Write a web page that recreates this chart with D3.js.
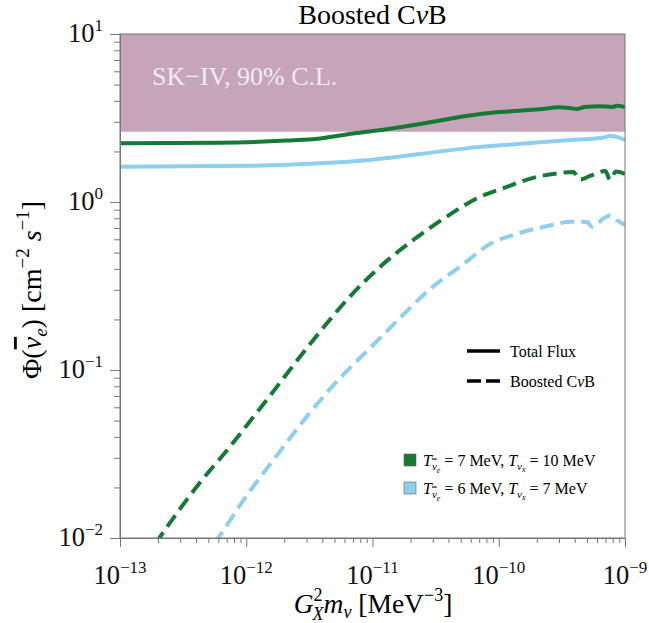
<!DOCTYPE html>
<html>
<head>
<meta charset="utf-8">
<script src="https://cdn.jsdelivr.net/npm/d3@7"></script>
<style>
body { margin: 0; background: #fff; }
text { font-family: "Liberation Serif", "DejaVu Serif", serif; }
</style>
</head>
<body>
<script>
// total flux, T_nuebar = 7 MeV, T_nux = 10 MeV
const totalGreen = [
    {x: 1e-13, y: 2.24}, {x: 6.2e-13, y: 2.25}, {x: 2.09e-12, y: 2.32}, {x: 3.84e-12, y: 2.39},
    {x: 7.05e-12, y: 2.56}, {x: 1.29e-11, y: 2.71}, {x: 2.38e-11, y: 2.91}, {x: 4e-11, y: 3.12},
    {x: 7.1e-11, y: 3.34}, {x: 1.2e-10, y: 3.46}, {x: 2.1e-10, y: 3.56}, {x: 3e-10, y: 3.66},
    {x: 3.6e-10, y: 3.63}, {x: 4.2e-10, y: 3.58}, {x: 4.8e-10, y: 3.68}, {x: 6.3e-10, y: 3.72},
    {x: 8e-10, y: 3.68}, {x: 8.6e-10, y: 3.74}, {x: 1e-9, y: 3.68}
];
// total flux, T_nuebar = 6 MeV, T_nux = 7 MeV
const totalBlue = [
    {x: 1e-13, y: 1.62}, {x: 1.1e-12, y: 1.645}, {x: 3.84e-12, y: 1.70}, {x: 9.5e-12, y: 1.78},
    {x: 2.38e-11, y: 1.93}, {x: 5.9e-11, y: 2.10}, {x: 1.5e-10, y: 2.22}, {x: 3.7e-10, y: 2.34},
    {x: 5.5e-10, y: 2.38}, {x: 6.8e-10, y: 2.42}, {x: 7.6e-10, y: 2.47}, {x: 8.6e-10, y: 2.44},
    {x: 1e-9, y: 2.34}
];
// boosted CvB only
const boostedGreen = [
    {x: 1.9e-13, y: 0.0092}, {x: 2.05e-13, y: 0.01}, {x: 4.05e-13, y: 0.0202}, {x: 7.43e-13, y: 0.035},
    {x: 1.45e-12, y: 0.0663}, {x: 3.4e-12, y: 0.151}, {x: 6.25e-12, y: 0.261}, {x: 1.15e-11, y: 0.412},
    {x: 2.1e-11, y: 0.594}, {x: 3.87e-11, y: 0.818}, {x: 6.68e-11, y: 1.05}, {x: 1.09e-10, y: 1.21},
    {x: 2.0e-10, y: 1.41}, {x: 2.88e-10, y: 1.48}, {x: 3.89e-10, y: 1.51}, {x: 4.4e-10, y: 1.36},
    {x: 5.28e-10, y: 1.43}, {x: 7e-10, y: 1.53}, {x: 7.6e-10, y: 1.36}, {x: 8.5e-10, y: 1.52},
    {x: 1e-9, y: 1.47}
];
const boostedBlue = [
    {x: 5.6e-13, y: 0.0093}, {x: 6.0e-13, y: 0.01}, {x: 9.5e-13, y: 0.0168}, {x: 1.64e-12, y: 0.0291},
    {x: 3.01e-12, y: 0.0527}, {x: 5.53e-12, y: 0.0896}, {x: 9.55e-12, y: 0.135}, {x: 1.65e-11, y: 0.204},
    {x: 2.85e-11, y: 0.303}, {x: 4.93e-11, y: 0.412}, {x: 8.53e-11, y: 0.562}, {x: 1.47e-10, y: 0.654},
    {x: 2.79e-10, y: 0.735}, {x: 3.66e-10, y: 0.764}, {x: 5.0e-10, y: 0.76}, {x: 5.5e-10, y: 0.71},
    {x: 6.8e-10, y: 0.80}, {x: 7.6e-10, y: 0.83}, {x: 8.6e-10, y: 0.78}, {x: 1e-9, y: 0.73}
];
const skLimit = 2.62;
const xTickExp = [-13, -12, -11, -10, -9];
const yTickExp = [-2, -1, 0, 1];

const W = 649, H = 623;
const pLeft = 120, pRight = 625, pTop = 34, pBottom = 538;

const x = d3.scaleLog().domain([1e-13, 1e-9]).range([pLeft, pRight]);
const y = d3.scaleLog().domain([1e-2, 10]).range([pBottom, pTop]);

const green = "#157a35";
const blue = "#8ccfee";

const svg = d3.select("body").append("svg")
.attr("width", W)
.attr("height", H);

svg.append("defs").append("clipPath").attr("id", "clip")
.append("rect")
.attr("x", pLeft).attr("y", pTop)
.attr("width", pRight - pLeft).attr("height", pBottom - pTop);

// SK-IV excluded band
svg.append("rect")
.attr("x", x(1e-13))
.attr("y", y(10))
.attr("width", x(1e-9) - x(1e-13))
.attr("height", y(skLimit) - y(10))
.attr("fill", "#c6a4b9");

svg.append("text")
.attr("x", 152)
.attr("y", 85)
.text("SK\u2212IV, 90% C.L.")
.style("fill", "#f4ecf1")
.style("font-size", "26px");

const line = d3.line()
.x(d => x(d.x))
.y(d => y(d.y))
.curve(d3.curveMonotoneX);

const plot = svg.append("g").attr("clip-path", "url(#clip)");

plot.append("path").datum(totalBlue)
.attr("d", line).attr("fill", "none")
.attr("stroke", blue).attr("stroke-width", 4);

plot.append("path").datum(totalGreen)
.attr("d", line).attr("fill", "none")
.attr("stroke", green).attr("stroke-width", 4);

plot.append("path").datum(boostedBlue)
.attr("d", line).attr("fill", "none")
.attr("stroke", blue).attr("stroke-width", 4)
.attr("stroke-dasharray", "14,7");

plot.append("path").datum(boostedGreen)
.attr("d", line).attr("fill", "none")
.attr("stroke", green).attr("stroke-width", 4)
.attr("stroke-dasharray", "14,7");

// frame
const axisColor = "#777";
svg.append("rect")
.attr("x", pLeft).attr("y", pTop)
.attr("width", pRight - pLeft).attr("height", pBottom - pTop)
.attr("fill", "none")
.attr("stroke", axisColor)
.attr("stroke-width", 1);

const minor = [];
for (let e = -13; e < -9; e++) for (let k = 2; k <= 9; k++) minor.push(k * Math.pow(10, e));
const minorY = [];
for (let e = -2; e < 1; e++) for (let k = 2; k <= 9; k++) minorY.push(k * Math.pow(10, e));

const xMajor = svg.append("g")
.attr("transform", "translate(0," + pBottom + ")")
.call(d3.axisBottom(x).tickValues(xTickExp.map(e => Math.pow(10, e))).tickSize(9).tickFormat(""));
const xMinor = svg.append("g")
.attr("transform", "translate(0," + pBottom + ")")
.call(d3.axisBottom(x).tickValues(minor).tickSize(5).tickFormat(""));
const yMajor = svg.append("g")
.attr("transform", "translate(" + pLeft + ",0)")
.call(d3.axisLeft(y).tickValues(yTickExp.map(e => Math.pow(10, e))).tickSize(10).tickFormat(""));
const yMinor = svg.append("g")
.attr("transform", "translate(" + pLeft + ",0)")
.call(d3.axisLeft(y).tickValues(minorY).tickSize(6).tickFormat(""));

[xMajor, xMinor, yMajor, yMinor].forEach(g => {
    g.select(".domain").attr("stroke", axisColor);
    g.selectAll(".tick line").attr("stroke", axisColor);
});

// tick labels
xTickExp.forEach(e => {
    const t = svg.append("text")
    .attr("x", x(Math.pow(10, e)))
    .attr("y", 584)
    .attr("text-anchor", "middle")
    .style("font-size", "26.5px")
    .style("fill", "#111");
    t.append("tspan").text("10");
    t.append("tspan").attr("dy", -11).style("font-size", "17px").text("\u2212" + Math.abs(e));
});

yTickExp.forEach(e => {
    const t = svg.append("text")
    .attr("x", 103)
    .attr("y", y(Math.pow(10, e)) + 8)
    .attr("text-anchor", "end")
    .style("font-size", "26.5px")
    .style("fill", "#111");
    t.append("tspan").text("10");
    t.append("tspan").attr("dy", -11).style("font-size", "17px").text(e < 0 ? "\u2212" + Math.abs(e) : String(e));
});

// title
const title = svg.append("text")
.attr("x", (pLeft + pRight) / 2)
.attr("y", 24)
.attr("text-anchor", "middle")
.style("font-size", "28px");
title.append("tspan").text("Boosted C");
title.append("tspan").style("font-style", "italic").text("\u03bd");
title.append("tspan").text("B");

// x label
const xl = svg.append("text")
.attr("x", 373)
.attr("y", 613)
.attr("text-anchor", "middle")
.style("font-size", "27.5px");
xl.append("tspan").style("font-style", "italic").text("G");
xl.append("tspan").attr("dy", -12).style("font-size", "18px").text("2");
xl.append("tspan").attr("dx", -10).attr("dy", 19).style("font-size", "18px").style("font-style", "italic").text("X");
xl.append("tspan").attr("dy", -7).style("font-style", "italic").text("m");
xl.append("tspan").attr("dy", 5).style("font-size", "18px").style("font-style", "italic").text("\u03bd");
xl.append("tspan").attr("dy", -5).text(" [MeV");
xl.append("tspan").attr("dy", -12).style("font-size", "18px").text("\u22123");
xl.append("tspan").attr("dy", 12).text("]");

// y label
const yl = svg.append("text")
.attr("transform", "translate(41,290) rotate(-90)")
.attr("text-anchor", "middle")
.style("font-size", "28px");
yl.append("tspan").text("\u03a6(");
yl.append("tspan").style("font-style", "italic").style("text-decoration", "overline").text("\u03bd");
yl.append("tspan").attr("dy", 6).style("font-size", "19px").style("font-style", "italic").text("e");
yl.append("tspan").attr("dy", -6).text(") [cm");
yl.append("tspan").attr("dy", -12).style("font-size", "19px").text("\u22122");
yl.append("tspan").attr("dy", 12).style("font-style", "italic").text(" s");
yl.append("tspan").attr("dy", -12).style("font-size", "19px").text("\u22121");
yl.append("tspan").attr("dy", 12).text("]");

// legend: line styles
const styleLegend = [{label: "Total Flux", dash: null, yy: 351}, {label: "Boosted C", dash: "14,5", yy: 381}];
styleLegend.forEach(d => {
    svg.append("line")
    .attr("x1", 467).attr("x2", 500)
    .attr("y1", d.yy).attr("y2", d.yy)
    .attr("stroke", "#000").attr("stroke-width", 3.5)
    .attr("stroke-dasharray", d.dash);
    const t = svg.append("text")
    .attr("x", 510).attr("y", d.yy + 5.5)
    .style("font-size", "16px");
    t.append("tspan").text(d.label);
    if (d.dash) {
        t.append("tspan").style("font-style", "italic").text("\u03bd");
        t.append("tspan").text("B");
    }
});

// legend: temperatures
const tempLegend = [{color: green, te: "7", tx: "10", yy: 454}, {color: blue, te: "6", tx: "7", yy: 482}];
tempLegend.forEach(d => {
    svg.append("rect")
    .attr("x", 404).attr("y", d.yy)
    .attr("width", 12).attr("height", 12)
    .attr("fill", d.color)
    .attr("stroke", "#666").attr("stroke-width", 0.6);
    const t = svg.append("text")
    .attr("x", 423).attr("y", d.yy + 11.5)
    .style("font-size", "16px");
    t.append("tspan").style("font-style", "italic").text("T");
    t.append("tspan").attr("dy", 4).style("font-size", "11px").style("font-style", "italic").style("text-decoration", "overline").text("\u03bd");
    t.append("tspan").attr("dy", 3).style("font-size", "8px").style("font-style", "italic").text("e");
    t.append("tspan").attr("dy", -7).text(" = " + d.te + " MeV, ");
    t.append("tspan").style("font-style", "italic").text("T");
    t.append("tspan").attr("dy", 4).style("font-size", "11px").style("font-style", "italic").text("\u03bd");
    t.append("tspan").attr("dy", 2).style("font-size", "8px").style("font-style", "italic").text("x");
    t.append("tspan").attr("dy", -6).text(" = " + d.tx + " MeV");
});
</script>
</body>
</html>
